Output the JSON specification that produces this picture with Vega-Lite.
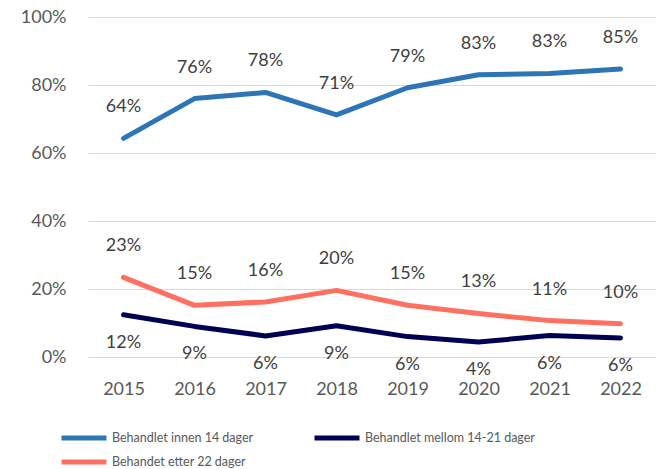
{
  "$schema": "https://vega.github.io/schema/vega-lite/v6.json",
  "width": 568,
  "height": 340,
  "padding": {"left": 20, "top": 8, "right": 0, "bottom": 0},
  "config": {
    "view": {"stroke": null},
    "font": "Lato"
  },
  "data": {
    "values": [
      {"year": "2015", "serie": "Behandlet innen 14 dager", "verdi": 0.643},
      {"year": "2016", "serie": "Behandlet innen 14 dager", "verdi": 0.76},
      {"year": "2017", "serie": "Behandlet innen 14 dager", "verdi": 0.778},
      {"year": "2018", "serie": "Behandlet innen 14 dager", "verdi": 0.712},
      {"year": "2019", "serie": "Behandlet innen 14 dager", "verdi": 0.792},
      {"year": "2020", "serie": "Behandlet innen 14 dager", "verdi": 0.83},
      {"year": "2021", "serie": "Behandlet innen 14 dager", "verdi": 0.834},
      {"year": "2022", "serie": "Behandlet innen 14 dager", "verdi": 0.847},
      {"year": "2015", "serie": "Behandlet mellom 14-21 dager", "verdi": 0.124},
      {"year": "2016", "serie": "Behandlet mellom 14-21 dager", "verdi": 0.09},
      {"year": "2017", "serie": "Behandlet mellom 14-21 dager", "verdi": 0.062},
      {"year": "2018", "serie": "Behandlet mellom 14-21 dager", "verdi": 0.092},
      {"year": "2019", "serie": "Behandlet mellom 14-21 dager", "verdi": 0.06},
      {"year": "2020", "serie": "Behandlet mellom 14-21 dager", "verdi": 0.044},
      {"year": "2021", "serie": "Behandlet mellom 14-21 dager", "verdi": 0.063},
      {"year": "2022", "serie": "Behandlet mellom 14-21 dager", "verdi": 0.056},
      {"year": "2015", "serie": "Behandet etter 22 dager", "verdi": 0.234},
      {"year": "2016", "serie": "Behandet etter 22 dager", "verdi": 0.152},
      {"year": "2017", "serie": "Behandet etter 22 dager", "verdi": 0.162},
      {"year": "2018", "serie": "Behandet etter 22 dager", "verdi": 0.196},
      {"year": "2019", "serie": "Behandet etter 22 dager", "verdi": 0.152},
      {"year": "2020", "serie": "Behandet etter 22 dager", "verdi": 0.128},
      {"year": "2021", "serie": "Behandet etter 22 dager", "verdi": 0.107},
      {"year": "2022", "serie": "Behandet etter 22 dager", "verdi": 0.098}
    ]
  },
  "encoding": {
    "x": {
      "field": "year", "type": "ordinal", "title": null,
      "scale": {"paddingInner": 0, "paddingOuter": 0},
      "axis": {"labelAngle": 0, "ticks": false, "domain": false, "labelFontSize": 18, "labelColor": "#595959", "labelPadding": 23}
    },
    "y": {
      "field": "verdi", "type": "quantitative", "title": null,
      "scale": {"domain": [0, 1], "nice": false},
      "axis": {"format": ".0%", "values": [0, 0.2, 0.4, 0.6, 0.8, 1], "ticks": false, "domain": false, "labelFontSize": 18, "labelColor": "#595959", "labelPadding": 22, "gridColor": "#d9d9d9", "gridWidth": 1}
    }
  },
  "layer": [
    {
      "mark": {"type": "line", "strokeWidth": 5, "strokeCap": "round", "strokeJoin": "round"},
      "encoding": {
        "color": {
          "field": "serie", "type": "nominal", "title": null,
          "scale": {
            "domain": ["Behandlet innen 14 dager", "Behandlet mellom 14-21 dager", "Behandet etter 22 dager"],
            "range": ["#2E75B6", "#000052", "#FF7060"]
          },
          "legend": {
            "orient": "none", "legendX": -28, "legendY": 407, "direction": "horizontal", "columns": 2,
            "symbolType": "M-2,0H2", "symbolSize": 506, "symbolStrokeWidth": 5, "symbolOffset": 10,
            "labelFontSize": 12.5, "labelColor": "#595959", "labelOffset": 14, "labelLimit": 300,
            "columnPadding": 50, "rowPadding": -2
          }
        }
      }
    },
    {
      "transform": [{"filter": "datum.serie !== 'Behandlet mellom 14-21 dager'"}],
      "mark": {"type": "text", "fontSize": 18, "color": "#404040", "baseline": "middle", "dy": -31},
      "encoding": {"text": {"field": "verdi", "format": ".0%"}}
    },
    {
      "transform": [{"filter": "datum.serie === 'Behandlet mellom 14-21 dager'"}],
      "mark": {"type": "text", "fontSize": 18, "color": "#404040", "baseline": "middle", "dy": 28},
      "encoding": {"text": {"field": "verdi", "format": ".0%"}}
    }
  ]
}
